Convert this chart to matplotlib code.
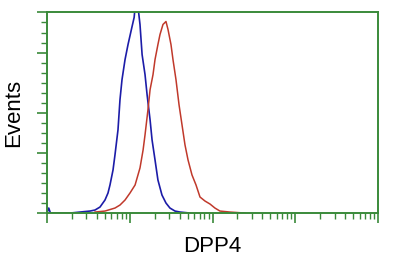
import numpy as np
import matplotlib
matplotlib.use("Agg")
import matplotlib.pyplot as plt
from matplotlib.ticker import LogLocator, NullFormatter, FixedLocator

# Fluorescence intensity (log scale) and event counts
blue_x = [1.0, 1.05, 1.1, 1.9, 2.5, 3.31, 3.8, 4.37, 5.02, 5.46, 5.77, 6.28, 6.63,
          7.21, 7.62, 8.06, 8.77, 9.53, 10.6, 11.3, 11.6, 12.6, 13.3, 14.1,
          15.3, 16.2, 17.6, 18.6, 20.2, 21.9, 24.5, 27.4, 30.6, 35.2, 40.5, 53.5]
blue_y = [0, 5, 0, 0, 1, 2, 3, 6, 13, 20, 28, 43, 58,
          83, 113, 133, 153, 168, 185, 195, 205, 205, 188, 158,
          138, 118, 93, 73, 53, 33, 18, 10, 5, 2, 1, 0]

red_x = [3.8, 5.02, 6.63, 7.62, 8.77, 10.07, 11.6, 13.3, 14.5, 15.3, 16.6, 17.6,
         19.1, 20.2, 21.9, 23.2, 25.2, 27.4, 29.0, 31.5, 33.3, 36.2, 39.4, 42.8,
         46.5, 50.6, 56.5, 63.2, 70.6, 81.1, 93.3, 107, 123, 163, 247]
red_y = [1, 2, 5, 8, 13, 20, 28, 45, 63, 78, 103, 123,
         138, 153, 168, 178, 188, 191, 183, 168, 153, 133, 108, 88,
         68, 53, 38, 28, 16, 12, 9, 5, 2, 1, 0]

x_label = "DPP4"
y_label = "Events"
y_major = [0, 60, 100, 160, 200]

green = "#3a8a3a"

plt.rcParams['font.family'] = ['Liberation Sans', 'DejaVu Sans']
fig = plt.figure(figsize=(4.0, 2.65), dpi=100)
ax = fig.add_axes([0.1175, 0.196, 0.8275, 0.757])

ax.plot(blue_x, blue_y, color="#1c1ca8", lw=1.2)
ax.plot(red_x, red_y, color="#c0392b", lw=1.1)

ax.set_xscale("log")
ax.set_xlim(1, 1e4)
ax.set_ylim(0, 200)

for s in ax.spines.values():
    s.set_color(green)
    s.set_linewidth(1.4)

ax.xaxis.set_major_locator(LogLocator(base=10, numticks=10))
ax.xaxis.set_minor_locator(LogLocator(base=10, subs=np.arange(2, 10), numticks=100))
ax.xaxis.set_major_formatter(NullFormatter())
ax.xaxis.set_minor_formatter(NullFormatter())
ax.yaxis.set_major_locator(FixedLocator(y_major))
ax.yaxis.set_minor_locator(FixedLocator(list(range(0, 201, 10))))
ax.yaxis.set_major_formatter(NullFormatter())

ax.tick_params(which="major", length=7, width=1.2, color=green, direction="out")
ax.tick_params(which="minor", length=4, width=1.0, color=green, direction="out")

ax.set_xlabel(x_label, fontsize=16, labelpad=6)
ax.set_ylabel(y_label, fontsize=16, labelpad=6)

fig.savefig("out.png", dpi=100)
